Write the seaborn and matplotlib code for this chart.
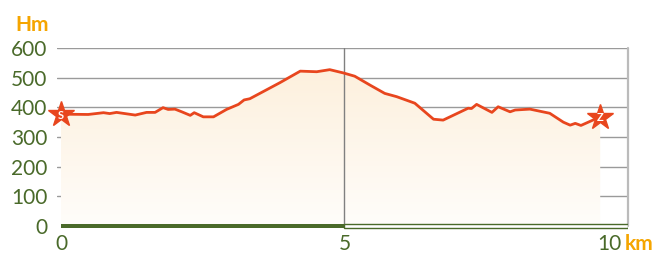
import numpy as np
import matplotlib
matplotlib.use("Agg")
import matplotlib.pyplot as plt
import seaborn as sns
import pandas as pd
from matplotlib.patches import Polygon, Rectangle
from matplotlib.colors import LinearSegmentedColormap
import matplotlib.transforms as mtransforms

# profile data (km, Hm)
km = [0.0, 0.48, 0.75, 0.86, 0.98, 1.31, 1.51, 1.66, 1.80, 1.89, 2.01, 2.13,
      2.28, 2.35, 2.51, 2.69, 2.92, 3.13, 3.23, 3.33, 3.86, 4.22, 4.51, 4.74,
      4.98, 5.18, 5.45, 5.71, 5.92, 6.24, 6.57, 6.74, 7.18, 7.24, 7.33, 7.60,
      7.71, 7.92, 8.01, 8.27, 8.62, 8.86, 8.98, 9.07, 9.17, 9.51]
hm = [377, 376, 382, 379, 383, 374, 383, 383, 399, 393, 394, 385,
      373, 382, 368, 368, 393, 410, 425, 429, 483, 522, 520, 527,
      516, 505, 475, 447, 436, 414, 360, 357, 397, 396, 410, 383,
      402, 385, 391, 394, 380, 350, 340, 346, 339, 368]
yticks = [0, 100, 200, 300, 400, 500, 600]
xticks = [0, 5]
markers = ["S", "Z"]

df = pd.DataFrame({"km": km, "hm": hm})

green = "#4a6a2a"
orange = "#f5a500"
red = "#e8461e"

sns.set_style("white")
plt.rcParams["font.family"] = ["Lato", "DejaVu Sans"]

fig = plt.figure(figsize=(6.61, 2.56), dpi=100)
ax = fig.add_axes([57 / 661, (256 - 229.6) / 256, (628 - 57) / 661, (229.6 - 48) / 256])
ax.set_xlim(-0.07, 10)
ax.set_ylim(-12, 600)

# gradient fill under the profile
cmap = LinearSegmentedColormap.from_list("fill", ["#fffdfa", "#fdf0dd"])
grad = np.linspace(0, 1, 256).reshape(-1, 1)
im = ax.imshow(grad, cmap=cmap, origin="lower", aspect="auto",
               extent=[km[0], km[-1], 0, max(hm)], zorder=1)
poly = Polygon(np.column_stack([km + [km[-1], km[0]], hm + [0, 0]]),
               closed=True, transform=ax.transData, facecolor="none", edgecolor="none")
ax.add_patch(poly)
im.set_clip_path(poly)

# grid
for y in yticks[1:]:
    ax.axhline(y, color="#9a9a9a", lw=1, zorder=0.5)
ax.plot([5, 5], [0, 600], color="#808080", lw=1, zorder=2)
ax.plot([10, 10], [0, 600], color="#bbbbbb", lw=1.6, zorder=2, clip_on=False)

# scale bar at the bottom
ax.add_patch(Rectangle((0, -8), 5, 14, facecolor=green, edgecolor=green, lw=0, zorder=3))
ax.add_patch(Rectangle((5, -8), 5, 14, facecolor="white", edgecolor=green, lw=1, zorder=3))

sns.lineplot(data=df, x="km", y="hm", color=red, lw=2, ax=ax, zorder=4)
ax.set_xlim(-0.07, 10)
ax.set_ylim(-12, 600)

for (x, y), lab in zip([(km[0], hm[0]), (km[-1], hm[-1])], markers):
    ax.plot(x, y, marker="*", markersize=19, color=red, zorder=5, clip_on=False)
    ax.text(x, y - 3, lab, color="white", fontsize=8, fontweight="bold",
            ha="center", va="center", zorder=6)

for s in ax.spines.values():
    s.set_visible(False)

ax.set_xticks(xticks)
ax.set_xticklabels([str(t) for t in xticks])
ax.set_yticks(yticks)
ax.set_yticklabels([str(t) for t in yticks])
ax.tick_params(axis="both", length=0, labelsize=15, labelcolor=green)
ax.tick_params(axis="y", pad=7)
ax.tick_params(axis="x", pad=3)
ax.set_xlabel("")
ax.set_ylabel("")

trans = mtransforms.blended_transform_factory(ax.transData, ax.transAxes)
ax.annotate("10", xy=(10, 0), xycoords=trans, xytext=(-5, -3),
            textcoords="offset points", ha="right", va="top",
            fontsize=15, color=green)
ax.annotate("km", xy=(10, 0), xycoords=trans, xytext=(-2, -3),
            textcoords="offset points", ha="left", va="top",
            fontsize=15, color=orange, fontweight="bold")
fig.text(49 / 661, 1 - 25 / 256, "Hm", ha="right", va="center",
         fontsize=15, color=orange, fontweight="bold")

fig.savefig("out.png", dpi=100)
